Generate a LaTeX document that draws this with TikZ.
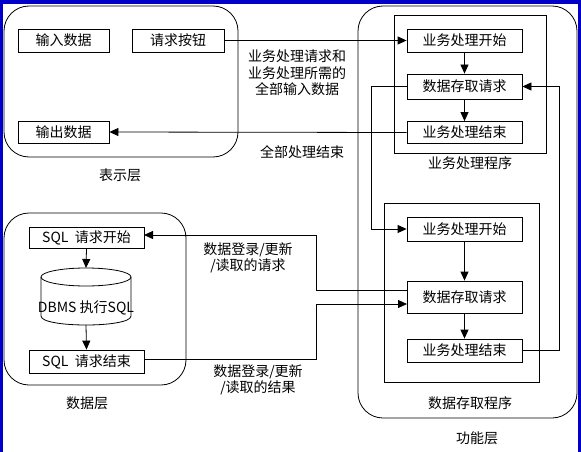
\documentclass[tikz,border=0pt]{standalone}
\usepackage{fontspec}
\setmainfont{Noto Sans CJK SC}
\usetikzlibrary{arrows.meta}
\definecolor{frameblue}{RGB}{0,0,200}
\begin{document}
\begin{tikzpicture}[x=1pt,y=-1pt,
  line width=0.8pt,
  txt/.style={font=\fontsize{14}{16.5}\selectfont, inner sep=0pt, align=center},
  box/.style={txt, draw, minimum width=115pt, minimum height=23pt},
  sbox/.style={txt, draw, minimum width=91pt, minimum height=23pt},
  layer/.style={draw, rounded corners=25pt, inner sep=0pt},
  prog/.style={draw, inner sep=0pt},
  arr/.style={-{Triangle[length=9pt,width=8pt]}}]
\useasboundingbox (0,0) rectangle (581,452);
\fill[white] (0,0) rectangle (581,452);
% blue window frame
\fill[frameblue] (0,0) rectangle (3,452);
\fill[frameblue] (0,0) rectangle (581,4);
\fill[frameblue] (578,0) rectangle (581,452);

% layers
\node[layer, minimum width=234pt, minimum height=151pt] (pres) at (121,81.5) {};
\node[layer, minimum width=219pt, minimum height=412pt] (func) at (467.5,212) {};
\node[layer, minimum width=182pt, minimum height=172pt] (datal) at (95,299) {};
\node[prog, minimum width=152pt, minimum height=138pt] (bp) at (470,84) {};
\node[prog, minimum width=155pt, minimum height=179pt] (dp) at (461.5,292.5) {};

% presentation layer
\node[sbox] (in) at (63.5,40.5) {输入数据};
\node[sbox, minimum width=92pt] (req) at (178,40.5) {请求按钮};
\node[sbox, minimum height=22pt] (out) at (63.5,132) {输出数据};
\node[txt] (lpres) at (120,175) {表示层};

% business program
\node[box] (bs1) at (464.5,40.5) {业务处理开始};
\node[box, minimum height=25pt] (da1) at (464.5,86.5) {数据存取请求};
\node[box, minimum height=22pt] (be1) at (464.5,132.5) {业务处理结束};
\node[txt] (lbp) at (470,163) {业务处理程序};

% data access program
\node[box, minimum height=24pt] (bs2) at (464.5,229) {业务处理开始};
\node[box, minimum height=32pt] (da2) at (464.5,297) {数据存取请求};
\node[box] (be2) at (464.5,350.5) {业务处理结束};
\node[txt] (ldp) at (470,403) {数据存取程序};
\node[txt] (lfunc) at (477,438) {功能层};

% data layer
\node[box, minimum height=21pt] (sqs) at (86.5,237.5) {SQL\ \ 请求开始};
\node[box] (sqe) at (86.5,361.5) {SQL\ \ 请求结束};
\node[txt, minimum width=90pt, minimum height=57pt] (db) at (86,296.5) {};
\draw (86,277) ellipse [x radius=45, y radius=9];
\draw (41,277) -- (41,316) .. controls (41,328) and (131,328) .. (131,316) -- (131,277);
\node[txt] (dbt) at (86,308) {DBMS\ 执行SQL};
\node[txt] (ldata) at (87,403) {数据层};

% connector labels
\node[txt] (l1) at (297,73) {业务处理请求和\\业务处理所需的\\全部输入数据};
\node[txt] (l2) at (302,152) {全部处理结束};
\node[txt] (l3) at (248,258) {数据登录/更新\\/读取的请求};
\node[txt] (l4) at (258,380) {数据登录/更新\\/读取的结果};

% coordinates
\coordinate (a1) at (407,290);
\coordinate (a2) at (407,304);
\coordinate (s1) at (144,235);
\coordinate (s2) at (144,359);

% connectors
\draw[arr] (req.east) -- (bs1.west);
\draw[arr] (be1.west) -- (out.east);
\draw[arr] (bs1.south) -- (da1.north);
\draw[arr] (da1.south) -- (be1.north);
\draw[arr] (da1.west) -- ++(-35,0) |- (bs2.west);
\draw[arr] (be2.east) -- ++(37,0) |- (da1.east);
\draw[arr] (bs2.south) -- (da2.north);
\draw[arr] (da2.south) -- (be2.north);
\draw[arr] (a1) -- (316,290) |- (s1);
\draw[arr] (s2) -- (316,359) |- (a2);
\draw[arr] (sqs.south) -- (86,268);
\draw[arr] (86,325) -- (sqe.north);
\end{tikzpicture}
\end{document}
